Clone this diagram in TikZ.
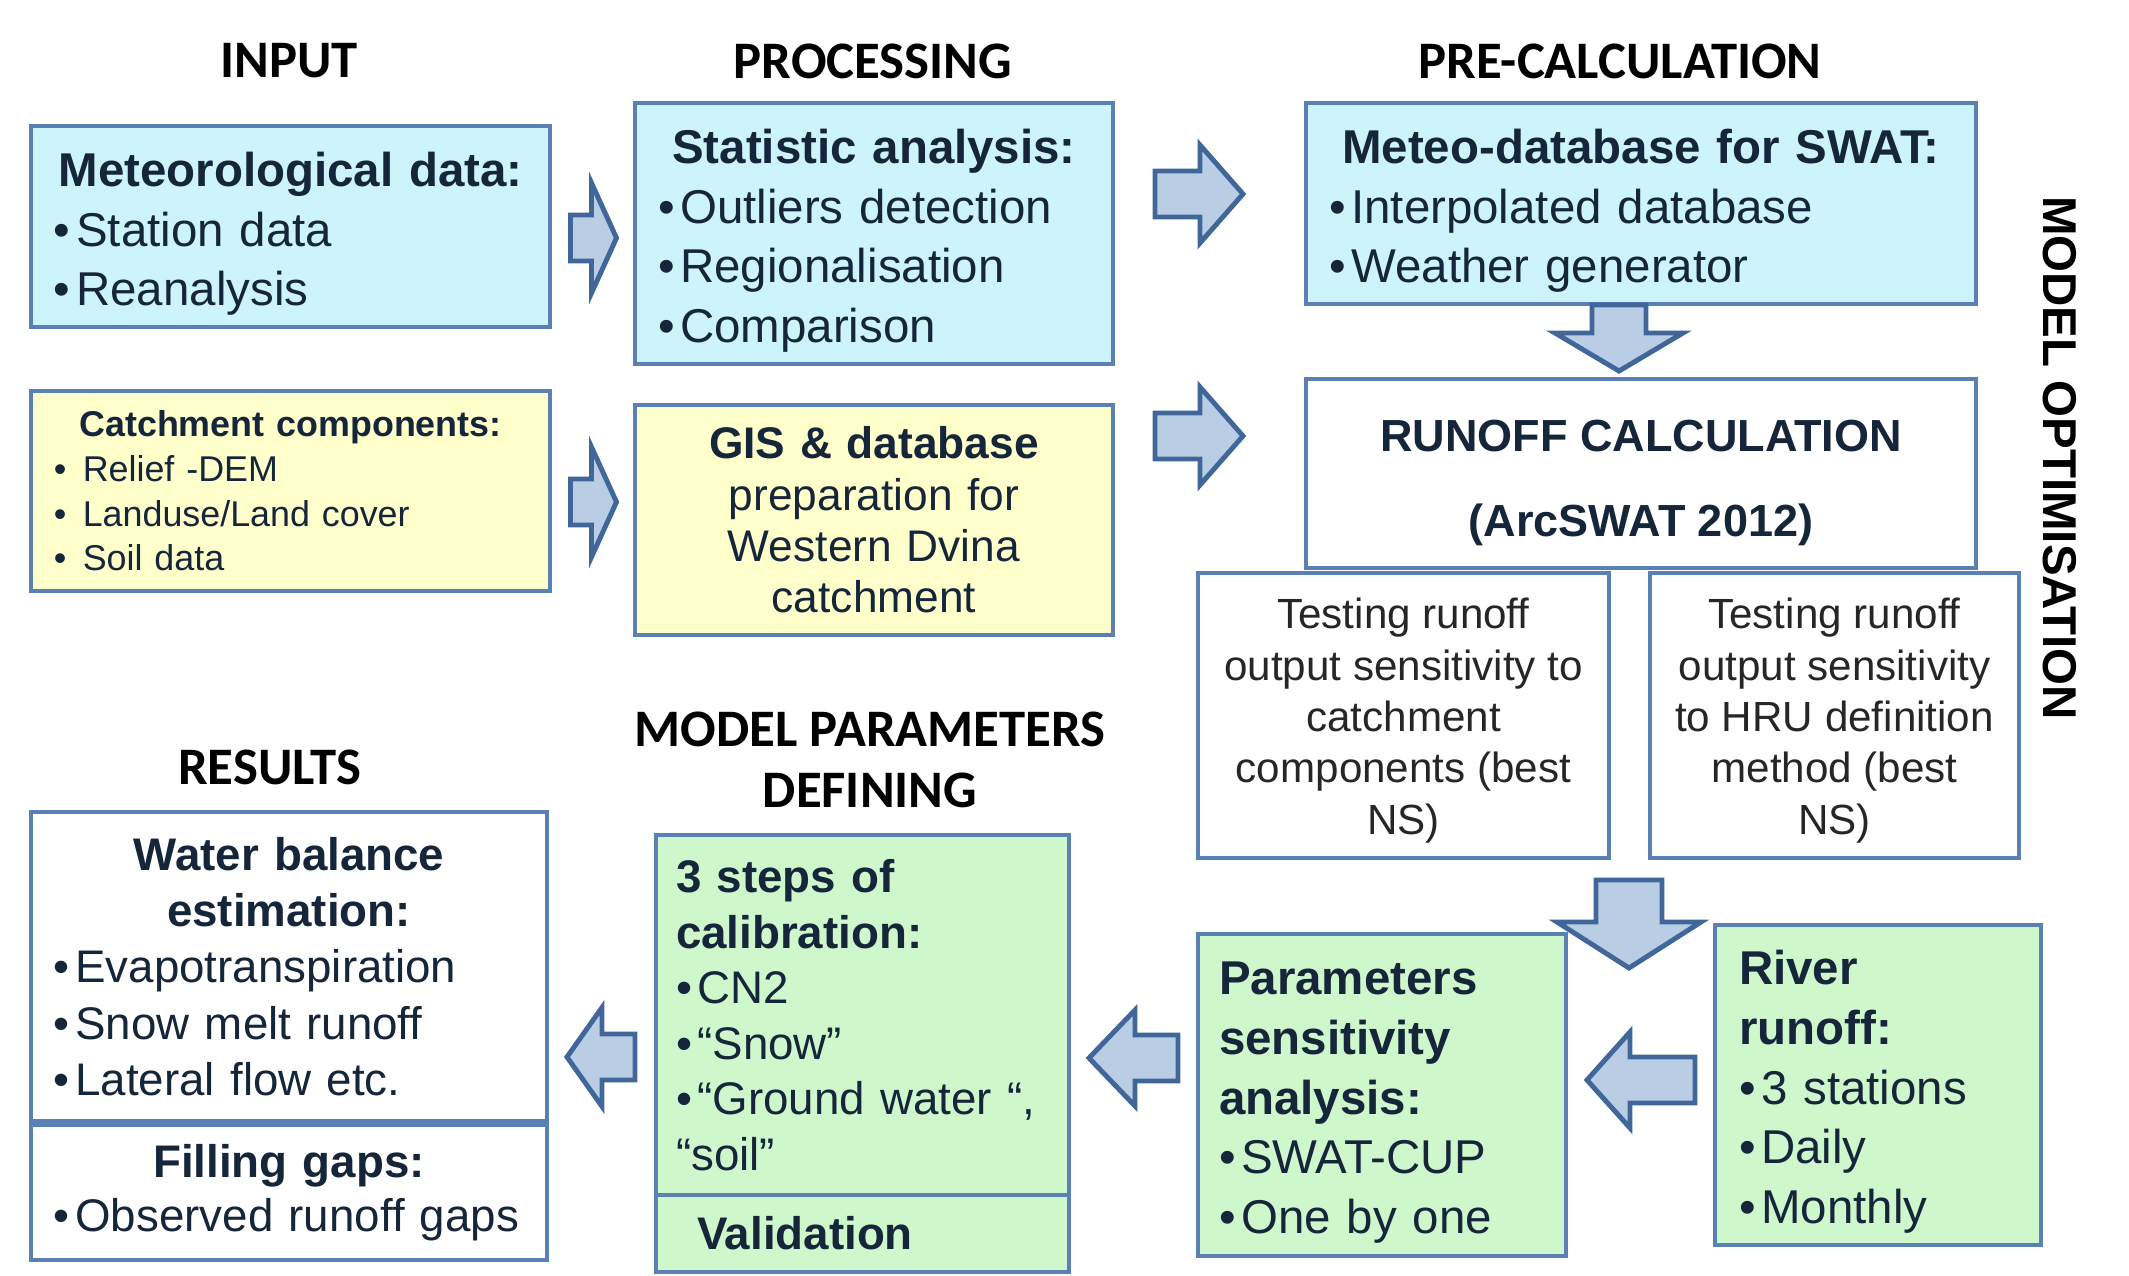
\documentclass[tikz,border=0pt]{standalone}
\usepackage{fontspec}
\setmainfont{Liberation Sans}
\newfontfamily\headfont{Carlito}
\definecolor{boxline}{HTML}{5B80B3}
\definecolor{bluefill}{HTML}{CCF4FA}
\definecolor{yellowfill}{HTML}{FFFFCC}
\definecolor{greenfill}{HTML}{CFF7CC}
\definecolor{arrowfill}{HTML}{B9CDE5}
\definecolor{arrowline}{HTML}{41679A}
\definecolor{boxtext}{HTML}{15253A}
\newcommand{\itm}[1]{\mbox{\textbullet\hspace{0.12em}#1}}
\newcommand{\topgap}[1]{\rule{0pt}{#1}}
\begin{document}
\begin{tikzpicture}
[boxdecorate/.style={draw=boxline,line width=1.2pt,inner sep=0pt,text=boxtext},%
  bluebox/.style={boxdecorate,fill=bluefill},%
  yellowbox/.style={boxdecorate,fill=yellowfill},%
  greenbox/.style={boxdecorate,fill=greenfill},%
  whitebox/.style={boxdecorate,fill=white},%
  headdecorate/.style={font=\headfont\bfseries\fontsize{15}{17.5}\selectfont},%
  arrowdecorate/.style={draw=arrowline,fill=arrowfill,line width=1.4pt,line join=miter},%
  bigtext/.style={font=\fontsize{13.5}{17}\selectfont}]
\fill[white] (0,0) rectangle (21.29,-12.76);
\useasboundingbox (0,0) rectangle (21.29,-12.76);
%% headings
\node (input) at (2.89,-0.61) [headdecorate] {INPUT};
\node (processing) at (8.73,-0.61) [headdecorate] {PROCESSING};
\node (precalc) at (16.20,-0.61) [headdecorate] {PRE-CALCULATION};
\node (results) at (2.70,-7.67) [headdecorate] {RESULTS};
\node (paramdef) at (8.70,-7.60) [headdecorate,align=center] {MODEL PARAMETERS\\DEFINING};
\node (optim) at (20.60,-4.58) [rotate=-90,font=\bfseries\fontsize{13.5}{16}\selectfont] {MODEL OPTIMISATION};
%% upper boxes
\node (meteo) at (2.905,-2.265) [bluebox,minimum width=5.19cm,minimum height=2.01cm,
  text width=4.73cm,align=left,bigtext]
  {{\centering\bfseries\topgap{13.9pt}Meteorological data:\par}\itm{Station data}\\\itm{Reanalysis}};
\node (stat) at (8.74,-2.335) [bluebox,minimum width=4.78cm,minimum height=2.61cm,
  text width=4.32cm,align=left,bigtext]
  {{\centering\bfseries\topgap{13.9pt}Statistic analysis:\par}\itm{Outliers detection}\\\itm{Regionalisation}\\\itm{Comparison}};
\node (meteodb) at (16.41,-2.035) [bluebox,minimum width=6.70cm,minimum height=2.01cm,
  text width=6.24cm,align=left,bigtext]
  {{\centering\bfseries\topgap{13.9pt}Meteo-database for SWAT:\par}\itm{Interpolated database}\\\itm{Weather generator}};
\node (catch) at (2.905,-4.91) [yellowbox,minimum width=5.19cm,minimum height=2.00cm,
  text width=4.73cm,align=left,font=\fontsize{10.2}{12.7}\selectfont]
  {{\centering\bfseries Catchment components:\par}\itm{\ Relief -DEM}\\\itm{\ Landuse/Land cover}\\\itm{\ Soil data}};
\node (gis) at (8.74,-5.20) [yellowbox,minimum width=4.78cm,minimum height=2.30cm,
  text width=4.50cm,align=center,font=\fontsize{12.6}{14.6}\selectfont]
  {\textbf{GIS \& database}\\preparation for\\Western Dvina\\catchment};
\node (runoff) at (16.41,-4.735) [whitebox,minimum width=6.70cm,minimum height=1.89cm,
  align=center,font=\bfseries\fontsize{12.8}{24}\selectfont]
  {\topgap{14.3pt}RUNOFF CALCULATION\\(ArcSWAT 2012)};
\node (test1) at (14.035,-7.155) [whitebox,minimum width=4.11cm,minimum height=2.85cm,
  align=center,text=black!85,font=\fontsize{12}{14.6}\selectfont]
  {\topgap{11.6pt}Testing runoff\\output sensitivity to\\catchment\\components (best\\NS)};
\node (test2) at (18.345,-7.155) [whitebox,minimum width=3.69cm,minimum height=2.85cm,
  align=center,text=black!85,font=\fontsize{12}{14.6}\selectfont]
  {\topgap{11.6pt}Testing runoff\\output sensitivity\\to HRU definition\\method (best\\NS)};
%% lower boxes
\node (water) at (2.89,-9.665) [whitebox,minimum width=5.16cm,minimum height=3.09cm,
  text width=4.70cm,align=left,font=\fontsize{13}{16}\selectfont]
  {{\centering\bfseries Water balance\\estimation:\par}\itm{Evapotranspiration}\\\itm{Snow melt runoff}\\\itm{Lateral flow etc.}};
\node (filling) at (2.89,-11.925) [whitebox,minimum width=5.16cm,minimum height=1.35cm,
  text width=4.70cm,align=left,font=\fontsize{13}{15.4}\selectfont]
  {{\centering\bfseries Filling gaps:\par}\itm{Observed runoff gaps}};
\node (calib) at (8.625,-10.15) [greenbox,minimum width=4.13cm,minimum height=3.60cm,
  text width=3.73cm,align=left,font=\fontsize{13}{15.8}\selectfont]
  {\textbf{3 steps of}\\\textbf{calibration:}\\\itm{CN2}\\\itm{“Snow”}\\\itm{“Ground water “,}\\“soil”};
\node (valid) at (8.625,-12.335) [greenbox,minimum width=4.13cm,minimum height=0.77cm,
  text width=3.31cm,align=left,font=\bfseries\fontsize{13}{15.8}\selectfont]
  {Validation};
\node (params) at (13.82,-10.95) [greenbox,minimum width=3.68cm,minimum height=3.22cm,
  text width=3.26cm,align=left,bigtext]
  {\textbf{\topgap{13.7pt}Parameters}\\\textbf{sensitivity}\\\textbf{analysis:}\\\itm{SWAT-CUP}\\\itm{One by one}};
\node (river) at (18.78,-10.85) [greenbox,minimum width=3.26cm,minimum height=3.20cm,
  text width=2.78cm,align=left,bigtext]
  {\textbf{\topgap{13.7pt}River}\\\textbf{runoff:}\\\itm{3 stations}\\\itm{Daily}\\\itm{Monthly}};
%% block arrows: centre / rotation / length / head width / shaft width / head length
\foreach \cx/\cy/\rot/\len/\hw/\sw/\hlen in {5.935/-2.38/0/0.46/1.10/0.46/0.25,
  11.99/-1.94/0/0.88/0.98/0.46/0.43, 5.935/-5.02/0/0.46/1.10/0.46/0.25,
  11.99/-4.36/0/0.88/0.98/0.46/0.43, 16.19/-3.38/-90/0.66/1.28/0.54/0.38,
  16.29/-9.24/-90/0.88/1.44/0.66/0.46, 16.41/-10.80/180/1.08/0.96/0.46/0.43,
  11.335/-10.58/180/0.89/0.96/0.46/0.46, 6.01/-10.57/180/0.68/0.99/0.46/0.35} {
  \draw[arrowdecorate,shift={(\cx,\cy)},rotate=\rot]
    ({-\len/2},{-\sw/2}) -- ({\len/2-\hlen},{-\sw/2}) -- ({\len/2-\hlen},{-\hw/2})
    -- ({\len/2},0) -- ({\len/2-\hlen},{\hw/2}) -- ({\len/2-\hlen},{\sw/2})
    -- ({-\len/2},{\sw/2}) -- cycle;
}
\end{tikzpicture}
\end{document}
